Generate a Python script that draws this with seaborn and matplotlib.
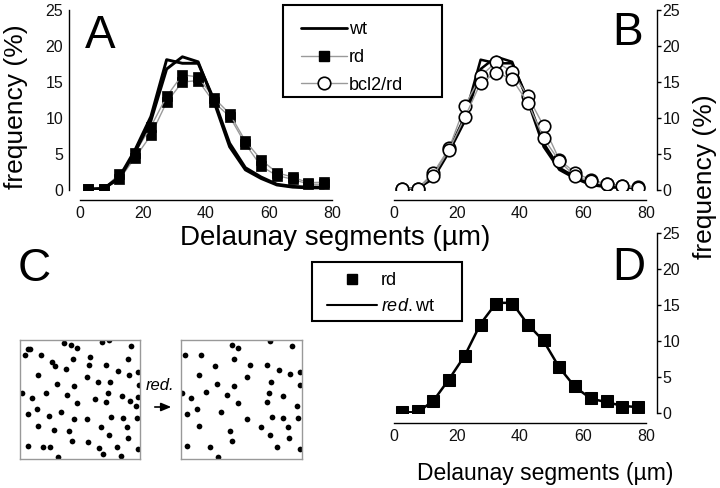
import matplotlib
matplotlib.use("Agg")
import matplotlib.pyplot as plt
import matplotlib.patches as mpatches
import seaborn as sns
from matplotlib.lines import Line2D

# ---------------- data ----------------
bins = [2.5, 7.5, 12.5, 17.5, 22.5, 27.5, 32.5, 37.5,
        42.5, 47.5, 52.5, 57.5, 62.5, 67.5, 72.5, 77.5]

wt_1 = [0.1, 0.2, 1.8, 5.6, 10.2, 18.1, 17.6, 17.6, 12.6, 6.5, 3.1, 1.8, 0.8, 0.5, 0.4, 0.4]
wt_2 = [0.1, 0.2, 1.6, 5.3, 9.6, 16.8, 18.5, 17.8, 12.3, 6.0, 2.8, 1.6, 0.7, 0.4, 0.3, 0.3]

rd_1 = [0.2, 0.2, 1.5, 4.5, 7.6, 12.2, 15.0, 15.2, 12.2, 10.2, 6.4, 3.3, 2.0, 1.5, 0.8, 0.8]
rd_2 = [0.2, 0.2, 2.2, 5.2, 8.8, 13.0, 16.0, 15.7, 12.8, 10.6, 6.8, 4.2, 2.4, 1.8, 1.0, 1.1]

bcl_1 = [0.2, 0.2, 2.4, 5.8, 11.7, 15.8, 17.8, 16.4, 13.0, 8.9, 4.2, 2.4, 1.4, 0.9, 0.6, 0.4]
bcl_2 = [0.2, 0.2, 2.0, 5.6, 10.1, 14.9, 16.3, 15.4, 12.1, 7.2, 4.0, 1.9, 1.2, 0.8, 0.5, 0.3]

rd_d = [0.15, 0.3, 1.6, 4.6, 7.9, 12.2, 15.2, 15.2, 12.2, 10.2, 6.4, 3.7, 2.1, 1.6, 0.9, 0.85]
redwt_d = [0.1, 0.1, 1.7, 4.7, 8.0, 12.4, 15.3, 15.3, 12.3, 10.0, 6.3, 3.6, 2.0, 1.5, 1.0, 0.8]

x_ticks = [0, 20, 40, 60, 80]
x_minor = [10, 30, 50, 70]
y_ticks = [0, 5, 10, 15, 20, 25]

# dot patterns of panel C (position inside the square, 0-100)
sq1_x = [36.9, 42.5, 47.5, 68.6, 74.4, 92.5, 6.4, 8.6, 4.2, 17.5, 44.4, 58.6, 89.7, 26.4,
         29.2, 57.5, 71.4, 38.1, 81.4, 98.6, 15.3, 90.8, 55.6, 65.3, 75.3, 30.6, 44.7, 99.2,
         1.4, 21.4, 39.2, 73.1, 9.7, 62.5, 84.7, 98.6, 47.5, 71.7, 91.9, 96.4, 14.2, 6.4,
         34.2, 24.2, 75.8, 85.6, 97.8, 44.7, 55.6, 15.3, 67.5, 89.2, 28.6, 41.1, 74.2, 89.7,
         43.6, 56.4, 6.4, 19.2, 25.0, 65.8, 80.8, 98.6, 69.4, 31.4, 84.2]
sq1_y = [97.5, 95.8, 93.3, 98.0, 100.0, 95.2, 92.7, 92.7, 87.1, 87.1, 83.8, 85.4, 84.0, 81.2,
         77.9, 79.0, 79.0, 75.4, 74.2, 72.8, 70.6, 70.9, 68.6, 64.4, 64.4, 63.0, 61.1, 62.2,
         55.7, 55.7, 54.1, 55.7, 51.3, 50.4, 52.9, 51.8, 46.8, 47.6, 48.5, 44.5, 42.0, 37.8,
         39.5, 36.1, 35.3, 34.5, 34.5, 33.3, 33.6, 27.7, 27.2, 27.2, 24.4, 23.5, 20.4, 17.6,
         15.1, 14.3, 10.6, 9.8, 9.8, 9.0, 10.4, 8.4, 4.2, 1.4, 2.5]
sq2_x = [41.9, 46.9, 73.6, 91.9, 3.6, 16.9, 43.6, 28.1, 56.9, 70.8, 80.8, 90.3, 98.1, 14.7,
         54.7, 74.7, 29.7, 44.2, 98.6, 0.8, 8.6, 20.8, 38.1, 72.5, 84.2, 46.9, 70.8, 95.8,
         13.6, 5.3, 33.1, 75.3, 84.7, 96.9, 54.7, 14.7, 66.4, 88.6, 40.3, 73.6, 89.2, 42.5,
         5.3, 24.2, 79.7, 98.1, 30.3]
sq2_y = [95.8, 93.3, 99.4, 95.0, 87.1, 87.1, 83.8, 77.9, 79.0, 79.0, 74.5, 71.1, 73.1, 70.6,
         68.6, 64.7, 62.7, 61.1, 61.9, 55.7, 51.3, 56.0, 54.1, 55.7, 52.7, 46.8, 47.9, 44.5,
         42.0, 37.8, 39.5, 35.3, 34.2, 34.5, 33.6, 27.5, 27.2, 27.2, 23.5, 20.4, 17.6, 15.1,
         10.6, 10.1, 10.4, 8.4, 1.4]

# ---------------- style ----------------
sns.set_style("white")
plt.rcParams['font.family'] = ['Liberation Sans', 'DejaVu Sans']
plt.rcParams['mathtext.fontset'] = 'custom'
plt.rcParams['mathtext.rm'] = 'Liberation Sans'
plt.rcParams['mathtext.it'] = 'Liberation Sans:italic'
plt.rcParams['text.color'] = 'black'

W, H = 720, 488
fig = plt.figure(figsize=(7.2, 4.88), dpi=100)
fig.patch.set_facecolor('white')


def rect(l, t, r, b):
    return [l / W, 1 - b / H, (r - l) / W, (b - t) / H]


def fx(px):
    return px / W


def fy(py):
    return 1 - py / H


def style_axis(ax, side):
    ax.set_xlim(0, 80)
    ax.set_ylim(0, 25)
    ax.patch.set_visible(False)
    for s in ax.spines.values():
        s.set_visible(False)
    for s in ('bottom', side):
        ax.spines[s].set_visible(True)
        ax.spines[s].set_color('black')
        ax.spines[s].set_linewidth(1.0)
    ax.spines['bottom'].set_position(('outward', 7.5))
    ax.spines[side].set_position(('outward', 8.0))
    ax.set_xticks(x_ticks)
    ax.set_xticks(x_minor, minor=True)
    ax.set_yticks(y_ticks)
    if side == 'right':
        ax.yaxis.tick_right()
    ax.tick_params(axis='both', which='both', direction='out', length=3, width=1,
                   color='black', labelsize=11.5, pad=1, labelcolor='#111111')
    ax.set_xlabel('')
    ax.set_ylabel('')


GRAY = '#9a9a9a'

# ---------------- panel A ----------------
axA = fig.add_axes(rect(80, 10, 332, 190))
for rd in (rd_1, rd_2):
    sns.lineplot(x=bins, y=rd, ax=axA, color=GRAY, linewidth=1.0, marker='s',
                 markersize=7.5, markerfacecolor='black', markeredgecolor='black',
                 markeredgewidth=0.5, zorder=2)
for wt in (wt_1, wt_2):
    sns.lineplot(x=bins, y=wt, ax=axA, color='black', linewidth=2.1, zorder=3)
style_axis(axA, 'left')

# ---------------- panel B ----------------
axB = fig.add_axes(rect(394, 10, 646, 190))
for wt in (wt_1, wt_2):
    sns.lineplot(x=bins, y=wt, ax=axB, color='black', linewidth=1.8, zorder=2)
for bc in (bcl_1, bcl_2):
    sns.lineplot(x=bins, y=bc, ax=axB, color=GRAY, linewidth=1.0, marker='o',
                 markersize=9, markerfacecolor='white', markeredgecolor='black',
                 markeredgewidth=1.2, zorder=3)
style_axis(axB, 'right')

# ---------------- panel D ----------------
axD = fig.add_axes(rect(394, 233, 646, 413))
sns.lineplot(x=bins, y=redwt_d, ax=axD, color='black', linewidth=1.8, zorder=2)
sns.lineplot(x=bins, y=rd_d, ax=axD, color='black', linewidth=0, marker='s',
             markersize=8, markerfacecolor='black', markeredgecolor='black', zorder=3)
style_axis(axD, 'right')

# ---------------- panel C ----------------
for (l, r), xs, ys in (((20, 140), sq1_x, sq1_y), ((181, 302), sq2_x, sq2_y)):
    axc = fig.add_axes(rect(l, 340, r, 459))
    sns.scatterplot(x=xs, y=ys, ax=axc, color='black', s=17, linewidth=0)
    axc.set_xlim(0, 100)
    axc.set_ylim(0, 100)
    axc.set_xticks([])
    axc.set_yticks([])
    axc.set_xlabel('')
    axc.set_ylabel('')
    for s in axc.spines.values():
        s.set_visible(True)
        s.set_color('#999999')
        s.set_linewidth(1.0)

fig.text(fx(146), fy(390), 'red.', fontsize=12, style='italic', ha='left', va='baseline')
fig.add_artist(mpatches.FancyArrowPatch(
    (fx(152), fy(407)), (fx(174), fy(407)), transform=fig.transFigure,
    arrowstyle='-|>,head_length=6,head_width=2.5', mutation_scale=1, color='black',
    linewidth=1.2))

# ---------------- texts ----------------
fig.text(fx(85), fy(48), 'A', fontsize=33, ha='left', va='baseline')
fig.text(fx(612), fy(45), 'B', fontsize=33, ha='left', va='baseline')
fig.text(fx(18), fy(281), 'C', fontsize=33, ha='left', va='baseline')
fig.text(fx(612), fy(280), 'D', fontsize=33, ha='left', va='baseline')

fig.text(fx(16), fy(107), 'frequency (%)', fontsize=19, rotation=90, ha='center', va='center')
fig.text(fx(705), fy(177), 'frequency (%)', fontsize=19, rotation=90, ha='center', va='center')
fig.text(fx(180), fy(245), 'Delaunay segments (\u00b5m)', fontsize=20, ha='left', va='baseline')
fig.text(fx(417), fy(480), 'Delaunay segments (\u00b5m)', fontsize=16.5, ha='left', va='baseline')

# ---------------- legends (frames drawn separately) ----------------
fig.add_artist(mpatches.Rectangle((fx(283), fy(97)), (442 - 283) / W, (97 - 5) / H,
                                  transform=fig.transFigure, fill=False,
                                  edgecolor='black', linewidth=1.5))
fig.add_artist(mpatches.Rectangle((fx(312), fy(321)), (462 - 312) / W, (321 - 262) / H,
                                  transform=fig.transFigure, fill=False,
                                  edgecolor='black', linewidth=1.5))

h1 = [Line2D([], [], color='black', linewidth=2.0),
      Line2D([], [], color=GRAY, linewidth=1.0, marker='s', markersize=7,
             markerfacecolor='black', markeredgecolor='black'),
      Line2D([], [], color=GRAY, linewidth=1.0, marker='o', markersize=9,
             markerfacecolor='white', markeredgecolor='black', markeredgewidth=1.2)]
fig.legend(h1, ['wt', 'rd', 'bcl2/rd'], loc='upper left',
           bbox_to_anchor=(fx(301), fy(21)), bbox_transform=fig.transFigure,
           fontsize=13, frameon=False, handlelength=2.55, handletextpad=0.12,
           labelspacing=0.6, borderpad=0, borderaxespad=0)

h2 = [Line2D([], [], color='black', linewidth=0, marker='s', markersize=7,
             markerfacecolor='black', markeredgecolor='black'),
      Line2D([], [], color='black', linewidth=1.5)]
fig.legend(h2, ['rd', '$\\mathit{red.}$wt'], loc='upper left',
           bbox_to_anchor=(fx(327), fy(272)), bbox_transform=fig.transFigure,
           fontsize=13, frameon=False, handlelength=2.75, handletextpad=0.25,
           labelspacing=0.5, borderpad=0, borderaxespad=0)

fig.savefig('out.png', dpi=100, facecolor='white')
